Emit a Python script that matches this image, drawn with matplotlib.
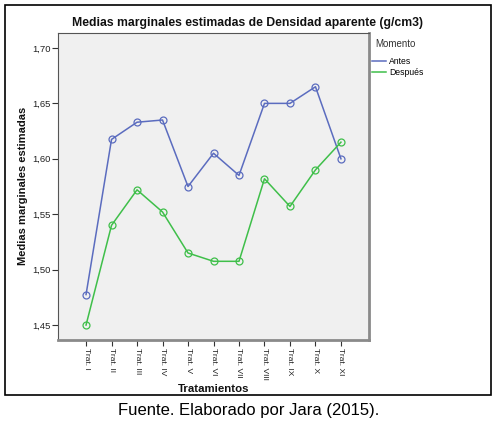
import numpy as np
import matplotlib.pyplot as plt
from matplotlib.patches import Rectangle
from matplotlib.lines import Line2D

plt.rcParams['font.family'] = ['Liberation Sans', 'DejaVu Sans']

tratamientos = ['Trat. I', 'Trat. II', 'Trat. III', 'Trat. IV', 'Trat. V', 'Trat. VI',
                'Trat. VII', 'Trat. VIII', 'Trat. IX', 'Trat. X', 'Trat. XI']
antes = [1.4775, 1.6175, 1.633, 1.635, 1.575, 1.605, 1.585, 1.650, 1.650, 1.665, 1.600]
despues = [1.450, 1.540, 1.572, 1.552, 1.515, 1.5075, 1.5075, 1.582, 1.557, 1.590, 1.615]
yticks = [1.45, 1.50, 1.55, 1.60, 1.65, 1.70]
ytick_labels = ['1,45', '1,50', '1,55', '1,60', '1,65', '1,70']

azul = '#5b6cbf'
verde = '#3fbf4a'

fig = plt.figure(figsize=(4.97, 4.28), dpi=100)
W, H = 497, 428

# marco exterior
fig.patches.append(Rectangle((5 / W, 1 - 395 / H), 486 / W, 390 / H, transform=fig.transFigure,
                             fill=False, edgecolor='black', linewidth=1.2))

ax = fig.add_axes([58 / W, 1 - 340 / H, 311 / W, 307 / H])
ax.set_facecolor('#f0f0f0')

x = np.arange(len(tratamientos))
ax.plot(x, antes, color=azul, linewidth=1.1, marker='o', markersize=5,
        markerfacecolor='none', markeredgecolor=azul, markeredgewidth=0.9)
ax.plot(x, despues, color=verde, linewidth=1.1, marker='o', markersize=5,
        markerfacecolor='none', markeredgecolor=verde, markeredgewidth=0.9)

ax.set_xlim(-1.1, 11.1)
ax.set_ylim(1.4365, 1.7135)
ax.set_yticks(yticks)
ax.set_yticklabels(ytick_labels, fontsize=6.8, color='#222222')
ax.set_xticks(x)
ax.set_xticklabels(tratamientos, rotation=-90, fontsize=6, color='#222222')
ax.tick_params(axis='both', length=4, width=0.8, color='#333333', pad=1.5)

for s in ax.spines.values():
    s.set_color('#555555')
    s.set_linewidth(0.8)
ax.spines['right'].set_linewidth(2)
ax.spines['bottom'].set_linewidth(2)
ax.spines['right'].set_color('#8a8a8a')
ax.spines['bottom'].set_color('#8a8a8a')

fig.text(248 / W, 1 - 23 / H, 'Medias marginales estimadas de Densidad aparente (g/cm3)',
         fontsize=8.8, fontweight='bold', ha='center', va='center', color='#111111')
fig.text(23 / W, 1 - 186 / H, 'Medias marginales estimadas', fontsize=8, fontweight='bold',
         rotation=90, ha='center', va='center', color='#111111')
fig.text(214 / W, 1 - 389 / H, 'Tratamientos', fontsize=8.2, fontweight='bold',
         ha='center', va='center', color='#111111')

# leyenda
fig.text(375 / W, 1 - 44 / H, 'Momento', fontsize=7, color='#333333', va='center')
handles = [Line2D([], [], color=azul, linewidth=1.1), Line2D([], [], color=verde, linewidth=1.1)]
fig.legend(handles, ['Antes', 'Después'], loc='upper left', bbox_to_anchor=(369 / W, 1 - 54 / H),
           frameon=False, fontsize=6.2, handlelength=1.6, handletextpad=0.3,
           labelspacing=0.2, borderaxespad=0)

fig.text(249 / W, 1 - 411 / H, 'Fuente. Elaborado por Jara (2015).', fontsize=12,
         ha='center', va='center')

fig.savefig('out.png', dpi=100)
